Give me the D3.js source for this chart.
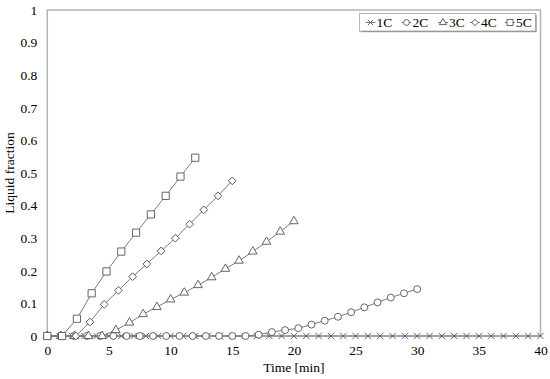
<!DOCTYPE html>
<html>
<head>
<meta charset="utf-8">
<script src="https://cdn.jsdelivr.net/npm/d3@7"></script>
<style>
  body { margin: 0; background: #fff; }
  svg text { font-family: "Liberation Serif", "Times New Roman", "DejaVu Serif", serif !important; fill: #000; }
</style>
</head>
<body>
<div id="chart"></div>
<script>
// series names and end times (min)
var seriesNames = ["1C", "2C", "3C", "4C", "5C"];
var endTimes = [40, 30, 20, 15, 12];

// liquid fraction
var values1C = [0,0,0,0,0,0,0,0,0,0,0,0,0,0,0,0,0,0,0,0,0,0,0,0,0,0,0,0,0,0,0,0,0,0,0,0,0,0,0,0,0];
var values2C = [0,0,0,0,0,0,0,0,0,0,0,0,0,0,0,0,0.004,0.012,0.018,0.024,0.035,0.047,0.059,0.073,0.088,0.103,0.118,0.131,0.144];
var values3C = [0,0,0,0,0,0.018,0.041,0.067,0.089,0.112,0.133,0.156,0.18,0.206,0.231,0.259,0.289,0.32,0.352];
var values4C = [0,0,0,0.043,0.097,0.14,0.182,0.221,0.261,0.3,0.343,0.387,0.43,0.476];
var values5C = [0,0,0.053,0.131,0.198,0.259,0.317,0.373,0.43,0.489,0.547];

var xTicks = [0, 5, 10, 15, 20, 25, 30, 35, 40];
var yTicks = [0, 0.1, 0.2, 0.3, 0.4, 0.5, 0.6, 0.7, 0.8, 0.9, 1];

var allValues = [values1C, values2C, values3C, values4C, values5C];
var symbols = [d3.symbolTimes, d3.symbolCircle, d3.symbolTriangle, d3.symbolSquare, d3.symbolSquare];
var symSizes = [28, 38, 32, 30, 52];
var symRotate = [0, 0, 0, 45, 0];

var svgWidth = 550, svgHeight = 379;
var margin = {top: 10, right: 9.5, bottom: 43, left: 47.3};
var width = svgWidth - margin.left - margin.right;
var height = svgHeight - margin.top - margin.bottom;

var svg = d3.select("#chart").append("svg")
    .attr("width", svgWidth)
    .attr("height", svgHeight);

var chartGroup = svg.append("g")
    .attr("transform", `translate(${margin.left}, ${margin.top})`);

var xScale = d3.scaleLinear().domain([0, 40]).range([0, width]);
var yScale = d3.scaleLinear().domain([0, 1]).range([height, 0]);

// frame
chartGroup.append("rect")
    .attr("x", 0).attr("y", 0)
    .attr("width", width).attr("height", height)
    .attr("fill", "none")
    .attr("stroke", "#b4b4b4")
    .attr("stroke-width", 1.5);

// axes (labels only)
var bottomAxis = d3.axisBottom(xScale).tickValues(xTicks).tickSize(0).tickPadding(9).tickFormat(d3.format("d"));
var leftAxis = d3.axisLeft(yScale).tickValues(yTicks).tickSize(0).tickPadding(10).tickFormat(d => d3.format("")(d));

var xg = chartGroup.append("g").attr("transform", `translate(0, ${height})`).call(bottomAxis);
var yg = chartGroup.append("g").call(leftAxis);
[xg, yg].forEach(function(g){
    g.attr("font-family", null).attr("font-size", null);
    g.select(".domain").remove();
    g.selectAll("text").attr("font-size", "13.5px");
});

// series
var line = d3.line().x(d => xScale(d.t)).y(d => yScale(d.v));
allValues.forEach(function(vals, s){
    var n = vals.length;
    var pts = vals.map(function(v, i){ return {t: endTimes[s] * i / (n - 1), v: v}; });
    chartGroup.append("path")
        .datum(pts)
        .attr("d", line)
        .attr("fill", "none")
        .attr("stroke", "#7a7a7a")
        .attr("stroke-width", 1);
    chartGroup.selectAll(null).data(pts).enter().append("path")
        .attr("d", d3.symbol().type(symbols[s]).size(symSizes[s]))
        .attr("transform", d => `translate(${xScale(d.t)}, ${yScale(d.v)}) rotate(${symRotate[s]})`)
        .attr("fill", s === 0 ? "none" : "#fff")
        .attr("stroke", "#555")
        .attr("stroke-width", 0.9);
});

// axis titles
svg.append("text")
    .attr("x", margin.left + width / 2)
    .attr("y", 372)
    .attr("text-anchor", "middle")
    .attr("font-size", "13.5px")
    .text("Time [min]");
svg.append("text")
    .attr("transform", `translate(14, ${margin.top + height / 2}) rotate(-90)`)
    .attr("text-anchor", "middle")
    .attr("font-size", "13.5px")
    .text("Liquid fraction");

// legend
var legend = svg.append("g").attr("transform", "translate(359.5, 13.5)");
legend.append("rect")
    .attr("x", 1.2).attr("y", 1.2).attr("width", 176).attr("height", 17.5)
    .attr("fill", "#999");
legend.append("rect")
    .attr("x", 0).attr("y", 0).attr("width", 176).attr("height", 17.5)
    .attr("fill", "#fff").attr("stroke", "#999").attr("stroke-width", 0.7);
var itemX = [6, 42, 78.5, 110.5, 145.5];
seriesNames.forEach(function(name, s){
    var g = legend.append("g").attr("transform", `translate(${itemX[s]}, 9)`);
    g.append("line").attr("x1", 0).attr("x2", 10).attr("y1", 0).attr("y2", 0)
        .attr("stroke", "#7a7a7a").attr("stroke-width", 1);
    g.append("path")
        .attr("d", d3.symbol().type(symbols[s]).size(symSizes[s] * 0.7))
        .attr("transform", `translate(5, 0) rotate(${symRotate[s]})`)
        .attr("fill", s === 0 ? "none" : "#fff")
        .attr("stroke", "#555").attr("stroke-width", 0.9);
    g.append("text").attr("x", 11).attr("y", 4.5).attr("font-size", "13.5px").text(name);
});
</script>
</body>
</html>
